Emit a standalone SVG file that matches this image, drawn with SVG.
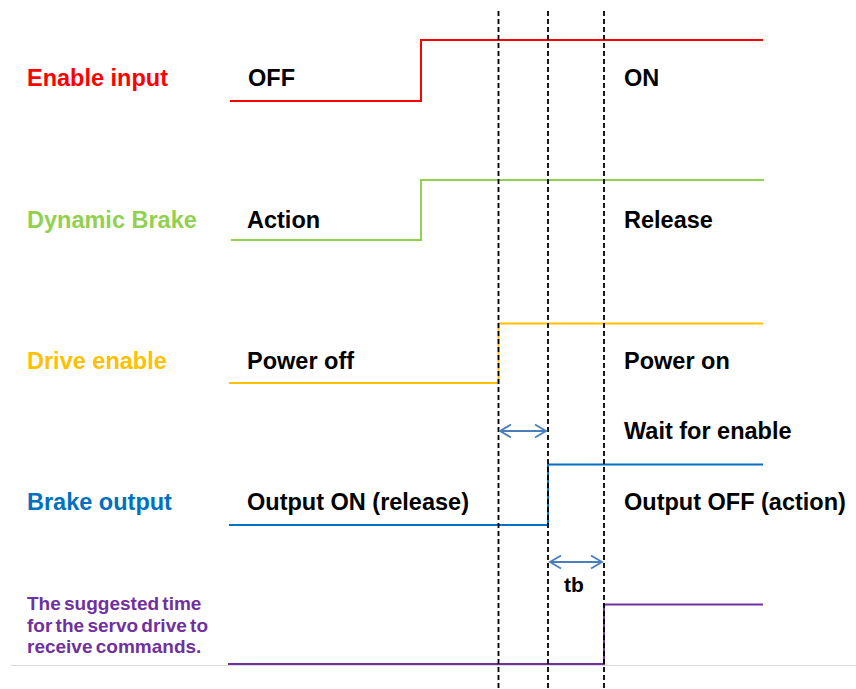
<svg xmlns="http://www.w3.org/2000/svg" width="856" height="689" viewBox="0 0 856 689">
<style>
text{font-family:"Liberation Sans",Arial,sans-serif;font-weight:bold;}
.lbl{font-size:23.5px;}
.st{font-size:23.5px;fill:#000;}
.pn{font-size:19px;fill:#7030A0;word-spacing:-2px;}
.sig{fill:none;stroke-width:2;}
.dash{stroke:#000;stroke-width:1.8;stroke-dasharray:5,3;fill:none;}
.arr{stroke:#4A7EBB;stroke-width:1.8;fill:none;}
</style>
<rect width="856" height="689" fill="#fff"/>
<line x1="11" y1="665.5" x2="856" y2="665.5" stroke="#D9D9D9" stroke-width="1"/>
<g id="enable-input">
<text class="lbl" x="27" y="86" fill="#FF0000">Enable input</text>
<text class="st" x="248" y="86">OFF</text>
<text class="st" x="624" y="86">ON</text>
<polyline class="sig" stroke="#FF0000" points="230,101 421,101 421,40 763,40"/>
</g>
<g id="dynamic-brake">
<text class="lbl" x="27" y="228" fill="#92D050">Dynamic Brake</text>
<text class="st" x="247" y="228">Action</text>
<text class="st" x="624" y="228">Release</text>
<polyline class="sig" stroke="#92D050" points="231,240 421,240 421,180 764,180"/>
</g>
<g id="drive-enable">
<text class="lbl" x="27" y="369" fill="#FFC000">Drive enable</text>
<text class="st" x="247" y="369">Power off</text>
<text class="st" x="624" y="369">Power on</text>
<polyline class="sig" stroke="#FFC000" points="229,383 498.5,383 498.5,323.5 763,323.5"/>
</g>
<g id="wait-label">
<text class="st" x="624" y="439">Wait for enable</text>
</g>
<g id="brake-output">
<text class="lbl" x="27" y="510" fill="#0070C0">Brake output</text>
<text class="st" x="247" y="510">Output ON (release)</text>
<text class="st" x="624" y="510">Output OFF (action)</text>
<polyline class="sig" stroke="#0070C0" points="229,525 548,525 548,464.5 763,464.5"/>
</g>
<g id="command-ready">
<text class="pn" x="27" y="610">The suggested time</text>
<text class="pn" x="27" y="632">for the servo drive to</text>
<text class="pn" x="27" y="653">receive commands.</text>
<polyline class="sig" stroke="#7030A0" points="228,664 604,664 604,604.5 763,604.5"/>
</g>
<g id="connectors">
<line class="dash" x1="498.5" y1="11" x2="498.5" y2="689"/>
<line class="dash" x1="548" y1="11" x2="548" y2="689"/>
<line class="dash" x1="604" y1="11" x2="604" y2="689"/>
<g id="t-wait">
<line class="arr" x1="500" y1="431" x2="546" y2="431"/>
<polyline class="arr" points="511,424.5 500,431 511,437.5"/>
<polyline class="arr" points="535,424.5 546,431 535,437.5"/>
</g>
<g id="t-tb">
<line class="arr" x1="550" y1="562" x2="602" y2="562"/>
<polyline class="arr" points="561,555.5 550,562 561,568.5"/>
<polyline class="arr" points="591,555.5 602,562 591,568.5"/>
<text class="st" x="564" y="592" style="font-size:21px">tb</text>
</g>
</g>
</svg>
